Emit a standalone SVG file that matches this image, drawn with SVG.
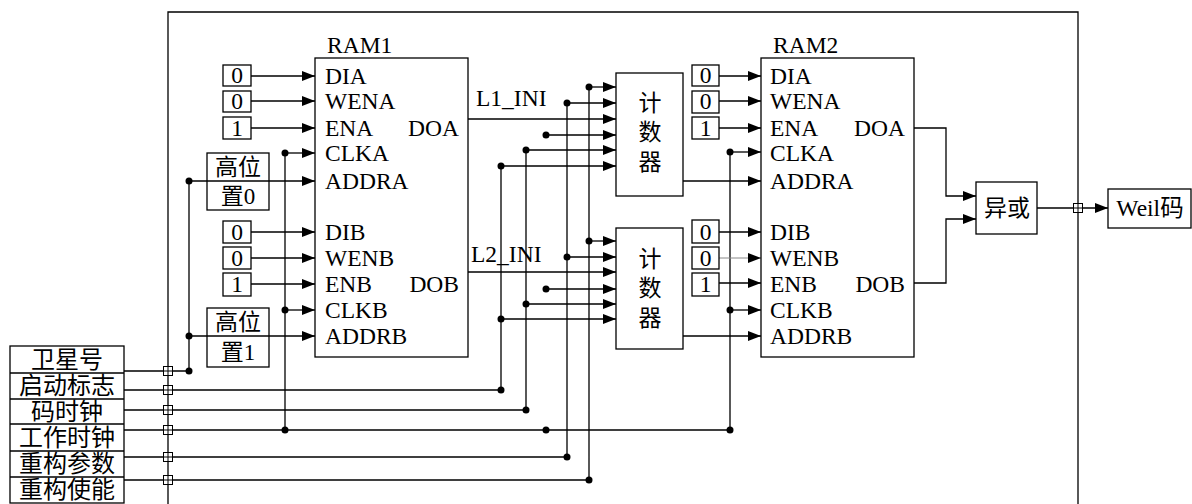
<svg xmlns="http://www.w3.org/2000/svg" xmlns:xlink="http://www.w3.org/1999/xlink" width="1192" height="504" viewBox="0 0 1192 504">
<style>
text{font-family:"Liberation Serif","Noto Sans CJK SC",serif;font-size:23.5px;fill:#000}
.cn{font-size:23px}
.tb{font-size:24px}
.mid{text-anchor:middle}
.end{text-anchor:end}
.box{fill:#fff;stroke:#000;stroke-width:1.3}
.ln{fill:none;stroke:#000;stroke-width:1.3}
.ar{fill:none;stroke:#000;stroke-width:1.3;marker-end:url(#ah)}
.thin{stroke:#888;stroke-width:1}
.dot{fill:#000}
</style>
<defs>
<marker id="ah" markerUnits="userSpaceOnUse" markerWidth="14" markerHeight="10" refX="13" refY="5" orient="auto">
<path d="M0,0 L13,5 L0,10 z" fill="#000"/>
</marker>
<g id="port"><rect x="-4.5" y="-4.5" width="9" height="9" fill="#fff" stroke="#000" stroke-width="1"/><path d="M-4.5,0H4.5M0,-4.5V4.5" stroke="#000" stroke-width="1"/></g>
</defs>
<rect width="1192" height="504" fill="#fff"/>

<!-- outer frame -->
<g id="frame"><path class="ln" d="M168,504V12H1078V504"/></g>

<!-- input table -->
<g id="inputs">
<rect class="box" x="10" y="346" width="114" height="157"/>
<path class="ln" d="M10,373H124M10,399H124M10,424H124M10,451H124M10,477H124"/>
<text class="tb mid" x="67" y="368">卫星号</text>
<text class="tb mid" x="67" y="394">启动标志</text>
<text class="tb mid" x="67" y="420">码时钟</text>
<text class="tb mid" x="67" y="446">工作时钟</text>
<text class="tb mid" x="67" y="472">重构参数</text>
<text class="tb mid" x="67" y="498">重构使能</text>
</g>

<!-- connectors -->
<g id="connectors">
<path class="ln" d="M124,371H189V181M124,390H501V166M124,410H526V150M124,430H730V152M124,457H567V103M124,480H589V87"/>
<path class="ln" d="M285,153V430"/>
<path class="ar" d="M251,76H315"/>
<path class="ar" d="M251,101H315"/>
<path class="ar" d="M251,128H315"/>
<path class="ar" d="M285,153H315"/>
<path class="ar" d="M189,181H315"/>
<path class="ar" d="M251,232H315"/>
<path class="ar" d="M251,258H315"/>
<path class="ar" d="M251,284H315"/>
<path class="ar" d="M285,310H315"/>
<path class="ar" d="M189,336H315"/>
<path class="ar" d="M589,87H616"/>
<path class="ar" d="M567,103H616"/>
<path class="ar" d="M468,119H616"/>
<path class="ar" d="M546,135H616"/>
<path class="ar" d="M526,150H616"/>
<path class="ar" d="M501,166H616"/>
<path class="ar" d="M589,241H616"/>
<path class="ar" d="M567,257H616"/>
<path class="ar" d="M468,272H616"/>
<path class="ar" d="M546,289H616"/>
<path class="ar" d="M526,304H616"/>
<path class="ar" d="M501,319H616"/>
<path class="ar" d="M719,76H761"/>
<path class="ar" d="M719,101H761"/>
<path class="ar" d="M719,128H761"/>
<path class="ar" d="M730,152H761"/>
<path class="ar" d="M683,181H761"/>
<path class="ar" d="M719,232H761"/>
<path class="ar thin" d="M719,258H761"/>
<path class="ar" d="M719,283H761"/>
<path class="ar" d="M730,310H761"/>
<path class="ar" d="M683,336H761"/>
<path class="ar" d="M914,128H946V196H976"/>
<path class="ar" d="M914,283H946V219H976"/>
<path class="ar" d="M1037,208H1108"/>
<circle class="dot" cx="189" cy="181" r="3.5"/>
<circle class="dot" cx="189" cy="336" r="3.5"/>
<circle class="dot" cx="189" cy="371" r="3.5"/>
<circle class="dot" cx="285" cy="153" r="3.5"/>
<circle class="dot" cx="285" cy="310" r="3.5"/>
<circle class="dot" cx="285" cy="430" r="3.5"/>
<circle class="dot" cx="589" cy="87" r="3.5"/>
<circle class="dot" cx="567" cy="103" r="3.5"/>
<circle class="dot" cx="546" cy="135" r="3.5"/>
<circle class="dot" cx="526" cy="150" r="3.5"/>
<circle class="dot" cx="501" cy="166" r="3.5"/>
<circle class="dot" cx="589" cy="241" r="3.5"/>
<circle class="dot" cx="567" cy="257" r="3.5"/>
<circle class="dot" cx="546" cy="289" r="3.5"/>
<circle class="dot" cx="526" cy="304" r="3.5"/>
<circle class="dot" cx="501" cy="319" r="3.5"/>
<circle class="dot" cx="501" cy="390" r="3.5"/>
<circle class="dot" cx="526" cy="410" r="3.5"/>
<circle class="dot" cx="546" cy="430" r="3.5"/>
<circle class="dot" cx="567" cy="457" r="3.5"/>
<circle class="dot" cx="589" cy="480" r="3.5"/>
<circle class="dot" cx="730" cy="152" r="3.5"/>
<circle class="dot" cx="730" cy="310" r="3.5"/>
<circle class="dot" cx="730" cy="430" r="3.5"/>
<use xlink:href="#port" x="168" y="371"/>
<use xlink:href="#port" x="168" y="390"/>
<use xlink:href="#port" x="168" y="410"/>
<use xlink:href="#port" x="168" y="430"/>
<use xlink:href="#port" x="168" y="457"/>
<use xlink:href="#port" x="168" y="480"/>
<use xlink:href="#port" x="1078" y="208"/>
<text x="476" y="106">L1_INI</text>
<text x="471" y="262">L2_INI</text>
</g>

<g id="ram1-const">
<rect class="box" x="223" y="65" width="28" height="21"/><text class="mid" x="237" y="83">0</text>
<rect class="box" x="223" y="91" width="28" height="21"/><text class="mid" x="237" y="109">0</text>
<rect class="box" x="223" y="117" width="28" height="22"/><text class="mid" x="237" y="136">1</text>
<rect class="box" x="223" y="221" width="28" height="22"/><text class="mid" x="237" y="240">0</text>
<rect class="box" x="223" y="247" width="28" height="22"/><text class="mid" x="237" y="266">0</text>
<rect class="box" x="223" y="273" width="28" height="23"/><text class="mid" x="237" y="292">1</text>
</g>
<g id="hi0">
<rect class="box" x="207" y="153" width="62" height="57" style="fill:none"/>
<text class="cn mid" x="238" y="175">高位</text>
<text class="cn mid" x="238" y="204">置0</text>
</g>
<g id="hi1">
<rect class="box" x="207" y="308" width="62" height="59" style="fill:none"/>
<text class="cn mid" x="238" y="330">高位</text>
<text class="cn mid" x="238" y="360">置1</text>
</g>

<g id="ram1">
<text x="327" y="53">RAM1</text>
<rect class="box" x="315" y="58" width="153" height="299" style="fill:none"/>
<text x="325" y="84">DIA</text>
<text x="325" y="109">WENA</text>
<text x="325" y="136">ENA</text>
<text x="325" y="161">CLKA</text>
<text x="325" y="189">ADDRA</text>
<text class="end" x="459" y="136">DOA</text>
<text x="325" y="240">DIB</text>
<text x="325" y="266">WENB</text>
<text x="325" y="292">ENB</text>
<text x="325" y="318">CLKB</text>
<text x="325" y="344">ADDRB</text>
<text class="end" x="459" y="292">DOB</text>
</g>

<g id="counter1">
<rect class="box" x="616" y="73" width="67" height="123"/>
<text class="cn mid" x="650" y="111">计</text>
<text class="cn mid" x="650" y="140">数</text>
<text class="cn mid" x="650" y="170">器</text>
</g>
<g id="counter2">
<rect class="box" x="616" y="228" width="67" height="121"/>
<text class="cn mid" x="650" y="267">计</text>
<text class="cn mid" x="650" y="296">数</text>
<text class="cn mid" x="650" y="326">器</text>
</g>

<g id="ram2-const">
<rect class="box" x="692" y="65" width="27" height="21"/><text class="mid" x="705.5" y="83">0</text>
<rect class="box" x="692" y="91" width="27" height="22"/><text class="mid" x="705.5" y="109">0</text>
<rect class="box" x="692" y="117" width="27" height="22"/><text class="mid" x="705.5" y="136">1</text>
<rect class="box" x="692" y="220" width="27" height="23"/><text class="mid" x="705.5" y="240">0</text>
<rect class="box" x="692" y="247" width="27" height="22"/><text class="mid" x="705.5" y="266">0</text>
<rect class="box" x="692" y="273" width="27" height="23"/><text class="mid" x="705.5" y="292">1</text>
</g>

<g id="ram2">
<text x="773" y="53">RAM2</text>
<rect class="box" x="761" y="58" width="153" height="299" style="fill:none"/>
<text x="770" y="84">DIA</text>
<text x="770" y="109">WENA</text>
<text x="770" y="136">ENA</text>
<text x="770" y="161">CLKA</text>
<text x="770" y="189">ADDRA</text>
<text class="end" x="905" y="136">DOA</text>
<text x="770" y="240">DIB</text>
<text x="770" y="266">WENB</text>
<text x="770" y="292">ENB</text>
<text x="770" y="318">CLKB</text>
<text x="770" y="344">ADDRB</text>
<text class="end" x="905" y="292">DOB</text>
</g>

<g id="xor">
<rect class="box" x="976" y="182" width="61" height="52"/>
<text class="cn mid" x="1007" y="216">异或</text>
</g>
<g id="weil">
<rect class="box" x="1108" y="189" width="83" height="39"/>
<text class="mid" x="1150" y="216">Weil码</text>
</g>
</svg>
